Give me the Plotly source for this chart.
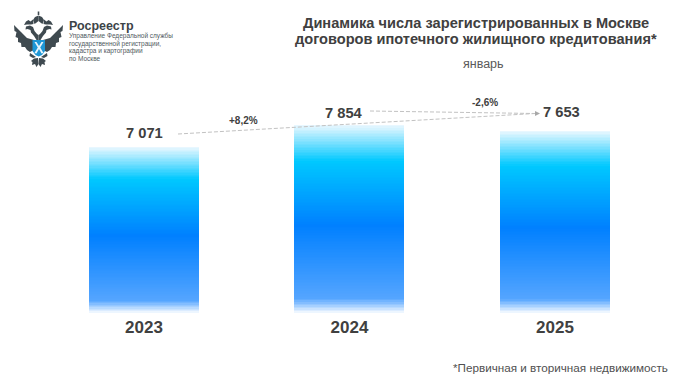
import plotly.graph_objects as go

W, H = 689, 385
years = ["2023", "2024", "2025"]
values = [7071, 7854, 7653]
label_shift_y = [14, 12, 19]
label_shift_x = [0, -5.5, 6]
axis_floor = 1160
title_lines = ["Динамика числа зарегистрированных в Москве", "договоров ипотечного жилищного кредитования*"]
subtitle = "январь"
footnote = "*Первичная и вторичная недвижимость"
changes = ["+8,2%", "-2,6%"]
org_name = "Росреестр"
org_lines = ["Управление Федеральной службы", "государственной регистрации,", "кадастра и картографии", "по Москве"]

gradient = [(0.0, (232, 247, 255)), (0.19, (0, 200, 255)), (0.53, (0, 128, 255)),
            (0.92, (85, 165, 255)), (1.0, (255, 255, 255))]
STEPS = 120
FONT = "Liberation Sans"
DARK = "#404040"


def colour_at(t):
    for (a, ca), (b, cb) in zip(gradient, gradient[1:]):
        if t <= b:
            k = (t - a) / (b - a)
            return "rgb(%d,%d,%d)" % tuple(round(p + (q - p) * k) for p, q in zip(ca, cb))
    return "rgb(255,255,255)"


# nested bars, tallest first, so that the gradient has no seams
xs, ys, cols = [], [], []
for step in range(STEPS):
    t = step / STEPS
    for year, value in zip(years, values):
        xs.append(year)
        ys.append((value - axis_floor) * (1 - t))
        cols.append(colour_at(t))

fig = go.Figure(go.Bar(x=xs, y=ys, base=axis_floor, width=0.535, marker=dict(color=cols, line=dict(width=0)),
                       hoverinfo="skip"))


def px(x):
    return x / W


def py(y):
    return 1 - y / H


def text(x, y, s, size, anchor="center", bold=False, color=DARK):
    fig.add_annotation(xref="paper", yref="paper", x=px(x), y=py(y), text=s, showarrow=False, xanchor=anchor,
                       yanchor="middle", align=anchor if anchor != "center" else "center",
                       font=dict(family=FONT, size=size, color=color, weight="bold" if bold else "normal"),
                       borderpad=0, borderwidth=0)


text(476, 23, title_lines[0], 14.6, bold=True)
text(476, 39, title_lines[1], 14.6, bold=True)
text(483, 64, subtitle, 12.5, color="#595959")
text(668, 367, footnote, 11.7, anchor="right", color="#505050")
text(243, 120, changes[0], 10, bold=True)
text(485, 103, changes[1], 10, bold=True)

text(69, 26, org_name, 12.5, anchor="left", bold=True, color="#3c4448")
for yy, line in zip([36.5, 44, 51.5, 59], org_lines):
    text(69, yy, line, 6.5, anchor="left", color="#505a60")

for i, (value, dy, dx) in enumerate(zip(values, label_shift_y, label_shift_x)):
    fig.add_annotation(xref="x", yref="y", x=i, y=value, text=f"{value:,}".replace(",", " "), showarrow=False,
                       yshift=dy, xshift=dx, font=dict(family=FONT, size=14.7, color=DARK, weight="bold"))


def seg(x0, y0, x1, y1, color="#c2c2c2", dash="4px,2px", width=1):
    fig.add_shape(type="line", xref="paper", yref="paper", x0=px(x0), y0=py(y0), x1=px(x1), y1=py(y1),
                  line=dict(color=color, dash=dash, width=width))


seg(178, 134, 535, 113.5)
seg(370, 111, 535, 113.5)


def path(points, color):
    d = "M" + " L".join(f"{px(x):.5f},{py(y):.5f}" for x, y in points) + " Z"
    fig.add_shape(type="path", xref="paper", yref="paper", path=d, fillcolor=color, line=dict(width=0))


path([(535, 111), (540, 113.5), (535, 116)], "#a8a8a8")

# emblem
INK = "#3f4a50"
CX = 38.5
left_parts = [
    [(34, 40), (27, 38), (21, 32), (14, 25), (14.5, 31), (16.5, 32), (15.5, 37), (18, 38), (18, 42), (21, 43),
     (21.5, 47), (25, 47), (27, 50), (30, 52), (34, 50)],
    [(36.5, 40), (34, 36), (31, 32.5), (30.5, 30), (27.5, 29), (25.5, 29.5), (26, 26.5), (30, 25.5), (33, 27),
     (34.5, 31), (37, 34), (38.5, 35), (38.5, 40)],
    [(24, 25), (26, 21.5), (28.5, 20), (30.5, 21.5), (33, 19.5), (33.5, 24), (31, 24.5), (27, 24.5)],
    [(33, 20), (35, 17), (38.5, 15.5), (38.5, 21), (36, 23), (34.5, 24)],
    [(38, 58), (34, 58.5), (31, 61), (32.5, 62), (32, 65), (35, 64), (36.5, 67), (38.5, 64)],
    [(30, 53), (33, 55), (36, 57), (33, 58), (29.5, 56)],
]
for part in left_parts:
    path(part, INK)
    path([(2 * CX - x, y) for x, y in part], INK)
path([(37.7, 15), (37.7, 11.5), (39.3, 11.5), (39.3, 15)], INK)
path([(32.5, 40), (45, 40), (45, 51), (42, 55), (38.7, 56.5), (35.5, 55), (32.5, 51)], "#1f97d6")
path([(34.5, 42), (36.5, 42), (39, 46), (41.5, 42), (43.5, 42), (40.2, 47.5), (43.5, 53), (41.5, 53.5), (39, 49),
      (36.5, 53.5), (34.5, 53), (37.8, 47.5)], "#e8f4fb")

fig.update_layout(width=W, height=H, autosize=False, margin=dict(l=0, r=0, t=0, b=0), paper_bgcolor="white",
                  plot_bgcolor="white", showlegend=False, bargap=0,
                  xaxis=dict(domain=[px(41.25), px(657.75)], type="category", categoryorder="array",
                             categoryarray=years, range=[-0.5, 2.5], showgrid=False, zeroline=False, showline=False,
                             ticks="", ticklabelstandoff=2,
                             tickfont=dict(family=FONT, size=17, color=DARK, weight="bold"), fixedrange=True),
                  yaxis=dict(domain=[py(313), py(100)], range=[axis_floor, axis_floor + (313 - 100) / 0.0281],
                             visible=False, fixedrange=True))
fig.write_html("out.html", config={"displayModeBar": False},
               post_script="document.body.style.margin='0';document.body.style.overflow='hidden';")
